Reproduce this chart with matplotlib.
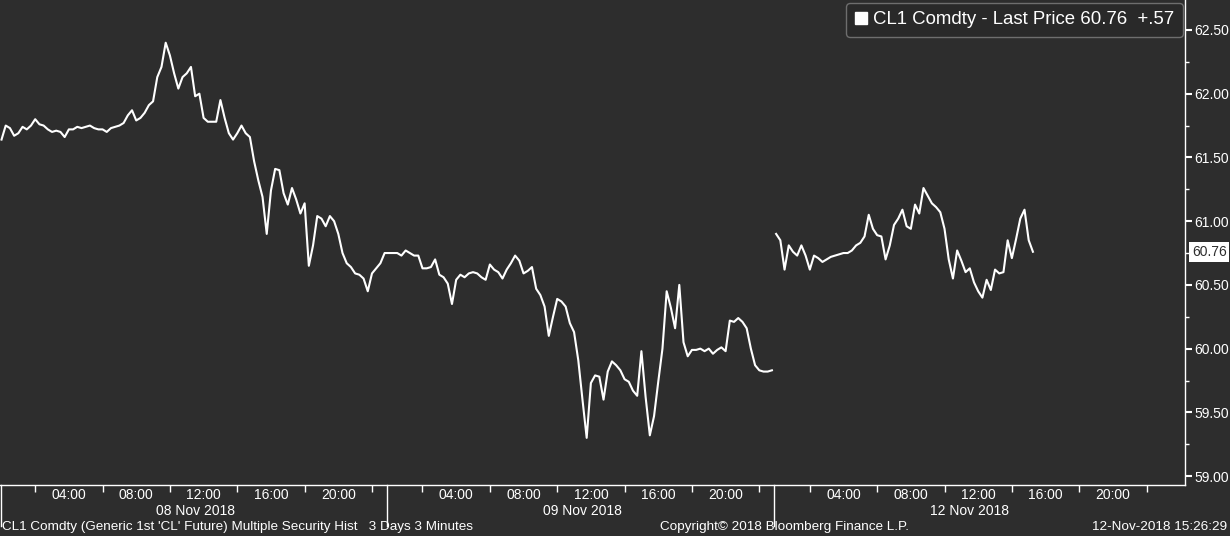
import matplotlib.pyplot as plt
import matplotlib.transforms as mtransforms
from matplotlib.lines import Line2D
from matplotlib.ticker import AutoMinorLocator
import numpy as np

plt.rcParams['font.family'] = ['Liberation Sans', 'DejaVu Sans']

BG = '#2d2d2d'
FG = 'white'

# Trading days on the axis, each session is 23 hours wide
days = ['08 Nov 2018', '09 Nov 2018', '12 Nov 2018']
session_hours = 23
step_hours = 0.25  # one price read every 15 minutes

# CL1 last price
nov08 = [61.64, 61.75, 61.73, 61.67, 61.69, 61.74, 61.72, 61.75, 61.80, 61.76,
         61.75, 61.72, 61.70, 61.71, 61.70, 61.66, 61.72, 61.72, 61.74, 61.73,
         61.74, 61.75, 61.73, 61.72, 61.72, 61.70, 61.73, 61.74, 61.75, 61.77,
         61.83, 61.87, 61.79, 61.81, 61.85, 61.91, 61.94, 62.13, 62.21, 62.40,
         62.30, 62.16, 62.04, 62.13, 62.16, 62.21, 61.98, 62.00, 61.81, 61.78,
         61.78, 61.78, 61.95, 61.81, 61.69, 61.64, 61.69, 61.75, 61.69, 61.66,
         61.47, 61.32, 61.19, 60.90, 61.24, 61.41, 61.40, 61.22, 61.13, 61.26,
         61.17, 61.06, 61.14, 60.65, 60.81, 61.04, 61.02, 60.96, 61.04, 61.00,
         60.90, 60.75, 60.67, 60.64, 60.59, 60.58, 60.55, 60.45, 60.59, 60.63,
         60.67, 60.75]
nov09 = [60.75, 60.75, 60.75, 60.73, 60.77, 60.75, 60.73, 60.73, 60.63, 60.63,
         60.64, 60.70, 60.58, 60.56, 60.51, 60.35, 60.54, 60.58, 60.56, 60.59,
         60.60, 60.59, 60.56, 60.54, 60.66, 60.62, 60.60, 60.55, 60.62, 60.67,
         60.73, 60.69, 60.59, 60.61, 60.64, 60.47, 60.42, 60.33, 60.10, 60.25,
         60.39, 60.37, 60.33, 60.20, 60.13, 59.91, 59.60, 59.30, 59.73, 59.79,
         59.78, 59.60, 59.82, 59.90, 59.87, 59.83, 59.76, 59.74, 59.67, 59.63,
         59.98, 59.62, 59.32, 59.47, 59.74, 60.00, 60.45, 60.32, 60.16, 60.50,
         60.05, 59.94, 59.99, 59.99, 60.00, 59.98, 60.00, 59.96, 59.99, 60.01,
         59.98, 60.22, 60.21, 60.24, 60.21, 60.16, 60.00, 59.87, 59.83, 59.82,
         59.82, 59.83]
nov12 = [60.90, 60.85, 60.62, 60.81, 60.76, 60.73, 60.81, 60.73, 60.62, 60.73,
         60.71, 60.68, 60.70, 60.72, 60.73, 60.74, 60.75, 60.75, 60.77, 60.81,
         60.83, 60.88, 61.05, 60.94, 60.89, 60.88, 60.70, 60.81, 60.97, 61.02,
         61.09, 60.96, 60.94, 61.13, 61.06, 61.26, 61.20, 61.14, 61.11, 61.07,
         60.94, 60.70, 60.55, 60.77, 60.69, 60.60, 60.63, 60.52, 60.45, 60.40,
         60.54, 60.46, 60.62, 60.59, 60.60, 60.85, 60.71, 60.86, 61.02, 61.09,
         60.85, 60.76]

label_hours = [4, 8, 12, 16, 20]
tick_hours = [2, 6, 10, 14, 18, 22]
price_ticks = [59.00, 59.50, 60.00, 60.50, 61.00, 61.50, 62.00, 62.50]
net_change = '+.57'


def session_x(i, values):
    return i * session_hours + np.arange(len(values)) * step_hours


fig = plt.figure(figsize=(12.3, 5.36), dpi=100, facecolor=BG)
ax = fig.add_axes([0, 0.0951, 0.9634, 0.9049], facecolor=BG)

# Thu/Fri are one run, the weekend breaks the line before Monday
x_week = np.concatenate([session_x(0, nov08), session_x(1, nov09)])
ax.plot(x_week, nov08 + nov09, color=FG, lw=1.5)
ax.plot(session_x(2, nov12), nov12, color=FG, lw=1.5)

ax.set_xlim(-0.09, 70.28)
ax.set_ylim(58.93, 62.735)

# Spines
for side in ['top', 'left']:
    ax.spines[side].set_visible(False)
for side in ['right', 'bottom']:
    ax.spines[side].set_color(FG)
    ax.spines[side].set_linewidth(1)

# Y axis on the right
ax.yaxis.tick_right()
ax.set_yticks(price_ticks)
ax.set_yticklabels([f'{p:.2f}' for p in price_ticks])
ax.yaxis.set_minor_locator(AutoMinorLocator(2))
ax.tick_params(axis='y', which='major', length=5, width=1.5, colors=FG, labelsize=10, pad=2)
ax.tick_params(axis='y', which='minor', length=3, width=1, colors=FG)

# X axis: labels every 4h, tick marks in between
major = [i * session_hours + h for i in range(len(days)) for h in label_hours]
minor = [i * session_hours + h for i in range(len(days)) for h in tick_hours]
ax.set_xticks(major)
ax.set_xticklabels([f'{h:02d}:00' for _ in days for h in label_hours])
ax.set_xticks(minor, minor=True)
ax.tick_params(axis='x', which='major', length=0, colors=FG, labelsize=10, pad=2)
ax.tick_params(axis='x', which='minor', length=5, width=1, colors=FG)

# Day names and session separators below the axis
trans = mtransforms.blended_transform_factory(ax.transData, ax.transAxes)
for i, day in enumerate(days):
    ax.text(i * session_hours + session_hours / 2, -0.054, day, transform=trans,
            ha='center', va='center', color=FG, fontsize=10)
    sep = max(i * session_hours - 0.1, -0.06)
    ax.plot([sep] * 2, [0, -0.085], transform=trans, color=FG,
            lw=1, clip_on=False)

# Legend
last = nov12[-1]
handle = Line2D([], [], marker='s', color=FG, linestyle='none', markersize=9)
leg = ax.legend([handle], [f'CL1 Comdty - Last Price {last:.2f}  {net_change}'],
                loc='upper right', bbox_to_anchor=(0.998, 0.994), borderaxespad=0,
                fontsize=13.4, frameon=True, fancybox=True, framealpha=1,
                facecolor='#292929', edgecolor='#6e6e6e', handlelength=0.7,
                handletextpad=0.3, borderpad=0.45, labelcolor=FG)
leg.get_frame().set_linewidth(1)

# Last price tag on the price axis
ax.annotate(f'{last:.2f}', xy=(1, last), xycoords=('axes fraction', 'data'),
            xytext=(5, 0), textcoords='offset points', ha='left', va='center',
            fontsize=10, color=BG,
            bbox=dict(boxstyle='square,pad=0.2', fc=FG, ec='none'))

# Footer
fig.text(0.002, 0.0168, "CL1 Comdty (Generic 1st 'CL' Future) Multiple Security Hist   3 Days 3 Minutes",
         ha='left', va='center', color=FG, fontsize=9.7)
fig.text(0.638, 0.0168, 'Copyright\u00a9 2018 Bloomberg Finance L.P.',
         ha='center', va='center', color=FG, fontsize=9.7)
fig.text(0.998, 0.0168, '12-Nov-2018 15:26:29',
         ha='right', va='center', color=FG, fontsize=9.7)

fig.savefig('out.png', dpi=100, facecolor=BG)
